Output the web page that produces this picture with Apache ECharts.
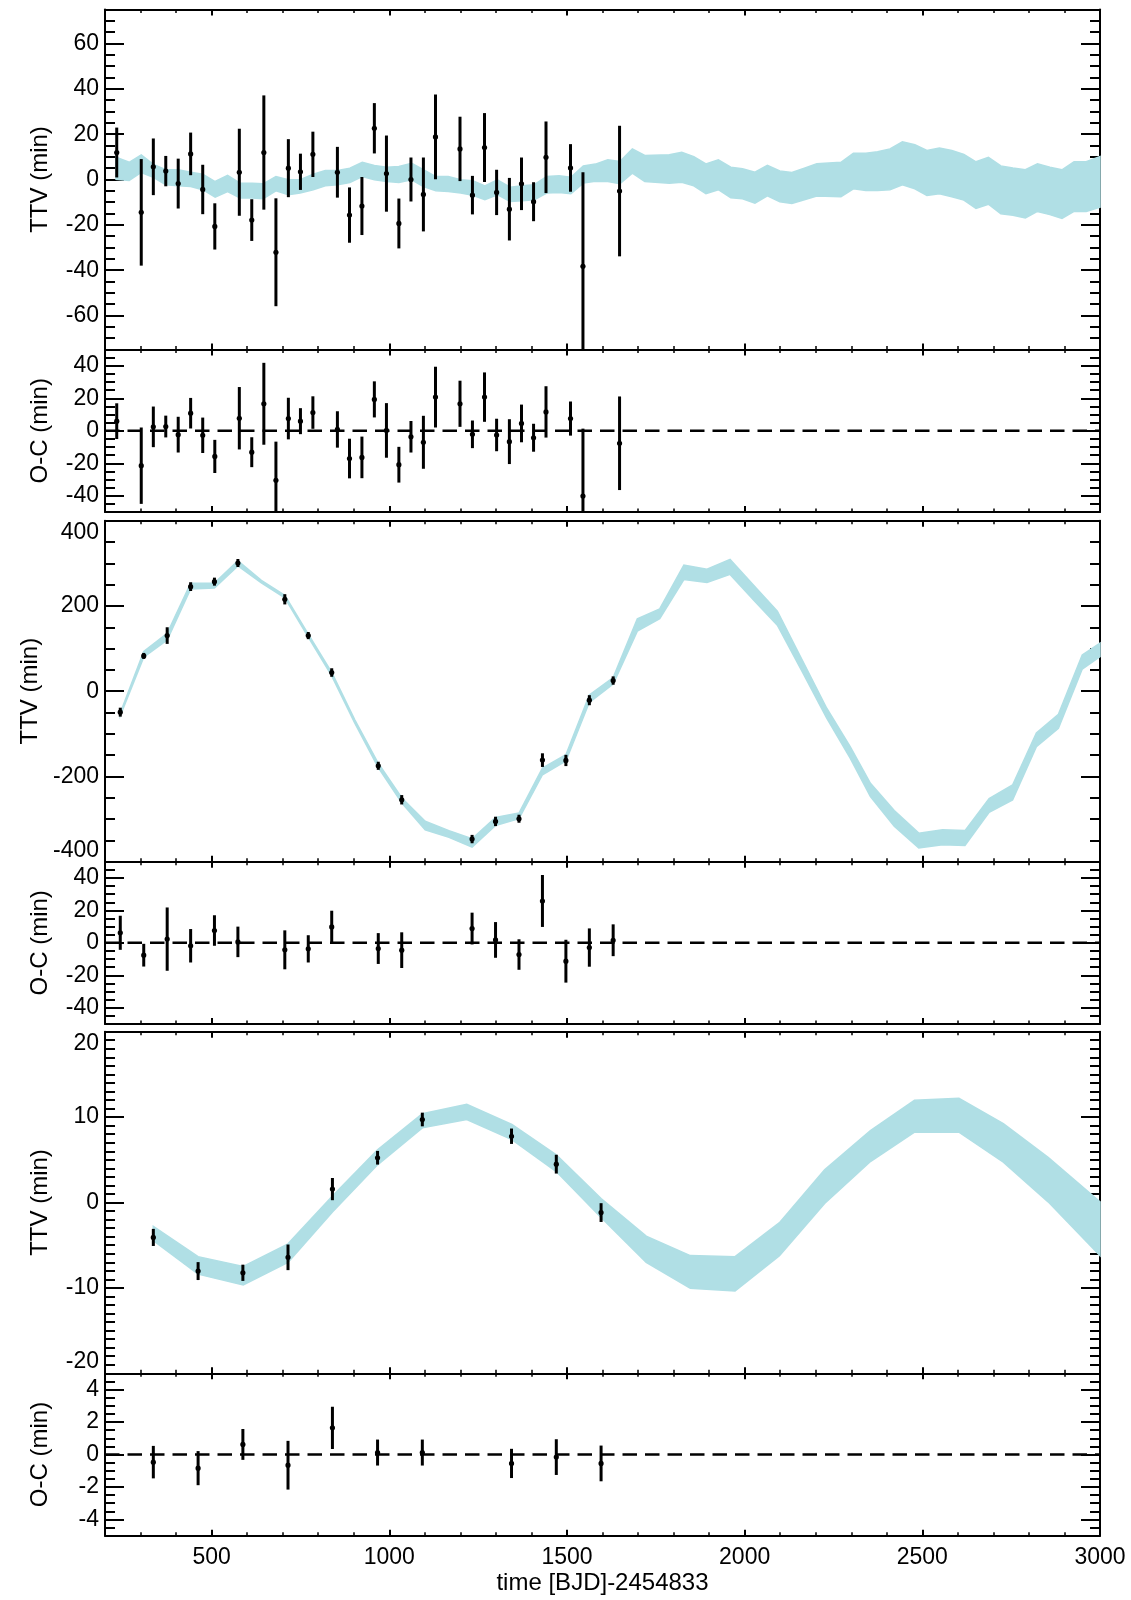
<!DOCTYPE html>
<html>
<head>
<meta charset="utf-8">
<script src="https://cdn.jsdelivr.net/npm/echarts@6/dist/echarts.min.js"></script>
<style>html,body{margin:0;padding:0;background:#fff}#c{width:1131px;height:1600px}</style>
</head>
<body>
<div id="c"></div>
<script>
// ---------------- DATA ----------------
// Planet 1 (panels 1-2)
const tB   = [233, 302, 336, 371, 406, 441, 475, 509, 578, 613, 647, 681, 716, 750, 785, 854, 888, 923, 958, 992, 1027, 1061, 1096, 1130, 1199, 1234, 1268, 1302, 1338, 1372, 1406, 1441, 1510, 1545, 1648];
const ttvB = [11.9, -14.5, 5.6, 3.7, -1.8, 11.3, -4.4, -20.7, 3.2, -17.9, 11.9, -32.1, 5.0, 3.4, 11.1, 3.2, -15.7, -11.7, 22.6, 2.6, -19.4, 0.0, -6.6, 18.8, 13.5, -6.9, 14.1, -5.7, -13.1, -1.9, -9.8, 9.8, 5.1, -38.3, -5.1];
const ocB  = [5.9, -21.5, 2.4, 2.6, -2.4, 10.8, -2.8, -15.8, 7.7, -13.2, 16.6, -30.5, 7.5, 5.9, 11.2, 0.8, -17.1, -16.4, 19.3, 0.2, -20.9, -3.7, -7.1, 20.7, 16.6, -2.2, 20.7, -2.6, -6.7, 4.5, -4.3, 11.6, 7.5, -40.2, -7.7];
const errB = [11, 23.5, 12.5, 6.7, 11, 9.4, 10.9, 10.2, 19.2, 9.2, 25.2, 23.8, 12.8, 8, 10, 11.2, 12.2, 12.8, 11.1, 16.8, 11, 9.7, 16.3, 18.7, 14.2, 8.5, 15.2, 10, 13.8, 11.6, 8.6, 15.8, 10.5, 41.5, 28.8];
// model band planet 1
const bandBt  = [231, 268, 302, 336, 371, 406, 441, 475, 510, 545, 580, 614, 645, 681, 716, 749, 786, 820, 855, 889, 924, 958, 993, 1027, 1063, 1096, 1131, 1166, 1201, 1235, 1269, 1304, 1340, 1374, 1408, 1443, 1478, 1511, 1546, 1580, 1615, 1649, 1684, 1719, 1788, 1823, 1857, 1891, 1926, 1961, 1994, 2029, 2064, 2099, 2133, 2168, 2203, 2271, 2306, 2341, 2374, 2409, 2444, 2479, 2513, 2548, 2583, 2617, 2651, 2686, 2721, 2755, 2790, 2824, 2859, 2893, 2927, 2961, 3000];
const bandBhi = [9.8, 7.6, 10.9, 6.7, 4.3, 4.3, 3.2, 2.3, -0.9, 1.8, -1.6, -1.6, -1.9, 1.3, -0.1, -0.1, 2.3, 4.0, 4.0, 5.0, 7.6, 6.2, 5.4, 5.7, 7.2, 4.3, 1.3, 1.3, -0.1, -0.6, -2.8, -0.1, -3.4, -2.8, -2.3, 1.3, 1.6, 1.0, 6.0, 6.8, 8.7, 7.9, 13.5, 10.6, 10.9, 12.0, 10.1, 6.9, 8.7, 5.4, 4.7, 3.2, 6.3, 3.8, 3.1, 5.0, 7.0, 7.6, 11.6, 11.6, 12.2, 13.5, 16.6, 15.3, 12.8, 13.9, 12.8, 11.1, 7.8, 9.8, 6.0, 5.1, 4.3, 6.9, 5.4, 4.3, 7.8, 7.8, 10.1];
const bandBlo = [0.1, -0.4, 3.1, 1.0, -2.3, -2.8, -3.1, -4.5, -7.8, -5.3, -8.2, -8.2, -8.5, -5.0, -6.7, -6.0, -4.5, -2.8, -2.3, -1.3, 1.3, -0.1, -0.9, -1.3, -0.1, -3.1, -5.0, -5.3, -6.0, -7.0, -8.9, -6.7, -9.7, -9.4, -8.9, -6.0, -5.7, -6.3, -1.6, -0.8, -0.9, -1.9, 2.8, -0.9, -1.6, -1.2, -2.8, -6.3, -4.5, -8.1, -8.5, -10.4, -7.2, -9.8, -10.6, -8.9, -7.3, -7.6, -4.1, -4.8, -4.8, -4.5, -2.3, -4.1, -7.0, -6.3, -7.6, -9.1, -12.8, -10.9, -15.1, -15.8, -17.0, -14.1, -15.5, -17.2, -14.1, -14.1, -12.2];

// Planet 2 (panels 3-4)
const tC   = [243, 309, 375, 441, 508, 574, 706, 772, 838, 969, 1035, 1233, 1299, 1365, 1431, 1497, 1563, 1630];
const ttvC = [-49.2, 82.8, 130.5, 245.3, 257, 300.8, 215.6, 130.5, 43.8, -175, -254.7, -346.9, -305.5, -299.2, -161.7, -162.5, -21.1, 25];
const ocC  = [6.2, -7.6, 2.3, -1.8, 7.6, 0.6, -4.3, -3.7, 9.8, -3.5, -4.5, 8.8, 1.8, -7.2, 25.8, -11.3, -2.9, 1.6];
const errC = [10.5, 7, 19.5, 10.3, 9.4, 9.4, 12, 8.4, 10, 9.5, 11, 9.8, 11, 9.4, 16, 13.2, 11.8, 9.8];
const bandCt  = [243, 309, 375, 441, 508, 574, 640, 706, 772, 838, 903, 969, 1036, 1101, 1168, 1233, 1299, 1365, 1431, 1497, 1563, 1630, 1698, 1761, 1829, 1894, 1959, 2031, 2092, 2162, 2231, 2297, 2354, 2421, 2490, 2557, 2620, 2688, 2754, 2821, 2883, 2950, 3000];
const bandChi = [-51, 93, 136, 253, 254, 306, 260, 225, 134, 44, -67, -169, -251, -305, -327, -346, -296, -286, -180, -149, -9, 32, 170, 193, 296, 286, 309, 243, 188, 73, -40, -130, -216, -280, -333, -325, -327, -252, -220, -98, -54, 85, 113];
const bandClo = [-57, 80, 120, 240, 242, 294, 254, 219, 127, 36, -75, -179, -263, -325, -343, -366, -315, -299, -196, -164, -26, 17, 141, 170, 262, 255, 274, 209, 155, 46, -63, -157, -247, -317, -368, -360, -362, -284, -255, -130, -87, 52, 81];

// Planet 3 (panels 5-6)
const tD   = [336, 462, 588, 715, 840, 967, 1093, 1344, 1470, 1596];
const ttvD = [-4.09, -8.03, -8.23, -6.42, 1.57, 5.24, 9.72, 7.76, 4.49, -1.18];
const ocD  = [-0.47, -0.84, 0.62, -0.66, 1.64, 0.12, 0.12, -0.55, -0.16, -0.55];
const errD = [1.0, 1.05, 0.95, 1.5, 1.3, 0.8, 0.8, 0.9, 1.1, 1.1];
const bandDt  = [336, 462, 589, 715, 840, 967, 1093, 1218, 1345, 1470, 1596, 1723, 1847, 1973, 2098, 2225, 2354, 2478, 2603, 2728, 2854, 3000];
const bandDhi = [-2.8, -6.34, -7.48, -4.84, 0.75, 6.18, 10.4, 11.5, 9.13, 5.59, 0.47, -3.94, -6.22, -6.34, -2.36, 3.82, 8.43, 11.97, 12.2, 9.25, 5.28, 0.08];
const bandDlo = [-4.45, -8.39, -9.65, -7.0, -1.1, 4.41, 8.74, 9.72, 7.36, 3.62, -1.75, -7.0, -10.04, -10.35, -6.22, -0.12, 4.8, 8.23, 8.23, 4.72, 0.08, -6.22];

// Tick labels
const xMajor = [500, 1000, 1500, 2000, 2500, 3000];
const yMaj1 = [-60, -40, -20, 0, 20, 40, 60];
const yMajOC = [-40, -20, 0, 20, 40];
const yMaj3 = [-400, -200, 0, 200, 400];
const yMaj5 = [-20, -10, 0, 10, 20];
const yMaj6 = [-4, -2, 0, 2, 4];
const zeroLine = [[200, 0], [3000, 0]];

// ---------------- LAYOUT ----------------
const FONT = "'Liberation Sans', Arial, Helvetica, sans-serif";
const BAND = '#b0dfe5';
const LEFT = 105, WIDTH = 995, XMIN = 200, XMAX = 3000;
const LABEL_SIZE = 23;
const panels = [
  {top: 9.5,    h: 340,   min: -75,  max: 75,  major: yMaj1,  step: 5,   name: 'TTV (min)', edge: false},
  {top: 349.5,  h: 162.5, min: -50,  max: 50,  major: yMajOC, step: 5,   name: 'O-C (min)', edge: false},
  {top: 520.7,  h: 341,   min: -400, max: 400, major: yMaj3,  step: 50,  name: 'TTV (min)', edge: true},
  {top: 861.7,  h: 162.3, min: -50,  max: 50,  major: yMajOC, step: 5,   name: 'O-C (min)', edge: false},
  {top: 1031.7, h: 341.6, min: -20,  max: 20,  major: yMaj5,  step: 1,   name: 'TTV (min)', edge: true},
  {top: 1373.3, h: 162.4, min: -5,   max: 5,   major: yMaj6,  step: 0.5, name: 'O-C (min)', edge: false}
];
const plain = v => String(v);

function minorTicks(min, max, step, major) {
  const out = [];
  const n = Math.round((max - min) / step);
  for (let k = 1; k < n; k++) {
    const v = +(min + k * step).toFixed(6);
    if (major.indexOf(v) < 0) out.push(v);
  }
  return out;
}
const xMinor = minorTicks(XMIN, XMAX, 100, xMajor);

const grids = [], xAxes = [], yAxes = [], series = [];
const lineS = {color: '#000', width: 2};

panels.forEach((p, gi) => {
  grids.push({left: LEFT, top: p.top, width: WIDTH, height: p.h, outerBoundsMode: 'none', containLabel: false});
  const last = gi === panels.length - 1;
  const xBase = {gridIndex: gi, type: 'value', min: XMIN, max: XMAX, splitLine: {show: false}, minorTick: {show: false}};
  xAxes.push(Object.assign({}, xBase, {
    position: 'bottom',
    axisLine: {show: true, onZero: false, lineStyle: lineS},
    axisTick: {show: true, inside: true, length: 6, customValues: xMajor, lineStyle: {color: '#000', width: 2}},
    axisLabel: {show: last, customValues: xMajor, formatter: plain, color: '#000', fontSize: LABEL_SIZE, fontFamily: FONT, margin: 10},
    name: last ? 'time [BJD]-2454833' : '', nameLocation: 'middle', nameGap: 36,
    nameTextStyle: {color: '#000', fontSize: 24, fontFamily: FONT}
  }));
  xAxes.push(Object.assign({}, xBase, {
    position: 'bottom',
    axisLine: {show: false, onZero: false},
    axisTick: {show: true, inside: true, length: 3.5, customValues: xMinor, lineStyle: {color: '#000', width: 1.5}},
    axisLabel: {show: false}
  }));
  xAxes.push(Object.assign({}, xBase, {
    position: 'top',
    axisLine: {show: true, onZero: false, lineStyle: lineS},
    axisTick: {show: true, inside: true, length: 6, customValues: xMajor, lineStyle: {color: '#000', width: 2}},
    axisLabel: {show: false}
  }));
  xAxes.push(Object.assign({}, xBase, {
    position: 'top',
    axisLine: {show: false, onZero: false},
    axisTick: {show: true, inside: true, length: 3.5, customValues: xMinor, lineStyle: {color: '#000', width: 1.5}},
    axisLabel: {show: false}
  }));

  const yMinor = minorTicks(p.min, p.max, p.step, p.major);
  const yBase = {gridIndex: gi, type: 'value', min: p.min, max: p.max, splitLine: {show: false}, minorTick: {show: false}};
  const lbl = {show: true, customValues: p.major, formatter: plain, color: '#000', fontSize: LABEL_SIZE, fontFamily: FONT, margin: 6};
  if (p.edge) { lbl.verticalAlignMinLabel = 'bottom'; lbl.verticalAlignMaxLabel = 'top'; }
  yAxes.push(Object.assign({}, yBase, {
    position: 'left',
    axisLine: {show: true, onZero: false, lineStyle: lineS},
    axisTick: {show: true, inside: true, length: 19, customValues: p.major, lineStyle: {color: '#000', width: 2}},
    axisLabel: lbl,
    name: p.name, nameLocation: 'middle', nameGap: 53,
    nameTextStyle: {color: '#000', fontSize: 24, fontFamily: FONT}
  }));
  yAxes.push(Object.assign({}, yBase, {
    position: 'left',
    axisLine: {show: false, onZero: false},
    axisTick: {show: true, inside: true, length: 10, customValues: yMinor, lineStyle: {color: '#000', width: 2}},
    axisLabel: {show: false}
  }));
  yAxes.push(Object.assign({}, yBase, {
    position: 'right',
    axisLine: {show: true, onZero: false, lineStyle: lineS},
    axisTick: {show: true, inside: true, length: 19, customValues: p.major, lineStyle: {color: '#000', width: 2}},
    axisLabel: {show: false}
  }));
  yAxes.push(Object.assign({}, yBase, {
    position: 'right',
    axisLine: {show: false, onZero: false},
    axisTick: {show: true, inside: true, length: 10, customValues: yMinor, lineStyle: {color: '#000', width: 2}},
    axisLabel: {show: false}
  }));
});

function bandSeries(gi, ts, hi, lo) {
  return {
    type: 'custom', xAxisIndex: gi * 4, yAxisIndex: gi * 4, silent: true, z: 1,
    data: [[ts[0], lo[0]]],
    renderItem: function (params, api) {
      const pts = [];
      for (let k = 0; k < ts.length; k++) pts.push(api.coord([ts[k], hi[k]]));
      for (let k = ts.length - 1; k >= 0; k--) pts.push(api.coord([ts[k], lo[k]]));
      return {type: 'polygon', shape: {points: pts}, style: {fill: BAND, stroke: BAND, lineWidth: 1.5, lineJoin: 'miter'}};
    }
  };
}
function errSeries(gi, ts, vs, es) {
  return {
    type: 'custom', xAxisIndex: gi * 4, yAxisIndex: gi * 4, silent: true, z: 5,
    data: ts.map((t, k) => [t, vs[k], es[k]]),
    encode: {x: 0, y: 1},
    renderItem: function (params, api) {
      const t = api.value(0), v = api.value(1), e = api.value(2);
      const cs = params.coordSys;
      const a = api.coord([t, v + e]), b = api.coord([t, v - e]), c = api.coord([t, v]);
      const y1 = Math.max(a[1], cs.y), y2 = Math.min(b[1], cs.y + cs.height);
      return {type: 'group', children: [
        {type: 'line', shape: {x1: c[0], y1: y1, x2: c[0], y2: y2}, style: {stroke: '#000', lineWidth: 3}},
        {type: 'circle', shape: {cx: c[0], cy: c[1], r: 2.6}, style: {fill: '#000'}}
      ]};
    }
  };
}
function zeroSeries(gi) {
  return {
    type: 'line', xAxisIndex: gi * 4, yAxisIndex: gi * 4, data: zeroLine, symbol: 'none', silent: true, z: 4,
    lineStyle: {color: '#000', width: 2.5, type: [14.5, 8]}
  };
}

series.push(bandSeries(0, bandBt, bandBhi, bandBlo));
series.push(errSeries(0, tB, ttvB, errB));
series.push(zeroSeries(1));
series.push(errSeries(1, tB, ocB, errB));
series.push(bandSeries(2, bandCt, bandChi, bandClo));
series.push(errSeries(2, tC, ttvC, errC));
series.push(zeroSeries(3));
series.push(errSeries(3, tC, ocC, errC));
series.push(bandSeries(4, bandDt, bandDhi, bandDlo));
series.push(errSeries(4, tD, ttvD, errD));
series.push(zeroSeries(5));
series.push(errSeries(5, tD, ocD, errD));

const chart = echarts.init(document.getElementById('c'), null, {renderer: 'canvas'});
chart.setOption({
  animation: false,
  backgroundColor: '#fff',
  textStyle: {fontFamily: FONT},
  grid: grids,
  xAxis: xAxes,
  yAxis: yAxes,
  series: series
});
</script>
</body>
</html>
